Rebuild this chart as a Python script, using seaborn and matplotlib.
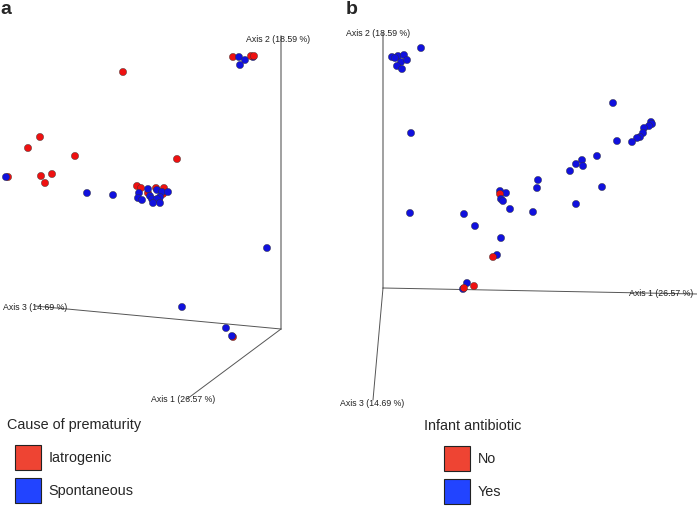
import pandas as pd
import matplotlib
matplotlib.use("Agg")
import matplotlib.pyplot as plt
import seaborn as sns
from matplotlib.patches import Patch

sns.set_style("white")
plt.rcParams['font.family'] = ['Liberation Sans', 'DejaVu Sans']

# Projected PCoA coordinates (screen space)
# panel a: cause of prematurity
a_x = [8, 6, 233, 239, 245, 240, 253, 251, 254, 123, 40, 28, 75, 177, 41, 52, 45,
       87, 113, 137, 141, 156, 164, 148, 163, 159, 148, 157, 162, 168, 139, 138,
       142, 150, 152, 160, 157, 153, 160, 267, 182, 226, 233, 232]
a_y = [177, 177, 57, 57, 60, 65, 57, 56, 56, 72, 137, 148, 156, 159, 176, 174, 183,
       193, 195, 186, 188, 188, 188, 193, 194, 200, 189, 190, 192, 192, 193, 198,
       200, 196, 199, 197, 199, 203, 203, 248, 307, 328, 337, 336]
a_grp = (["Iatrogenic", "Spontaneous", "Iatrogenic", "Spontaneous", "Spontaneous",
          "Spontaneous", "Spontaneous", "Iatrogenic", "Iatrogenic"]
         + ["Iatrogenic"] * 8
         + ["Spontaneous"] * 2
         + ["Iatrogenic"] * 7
         + ["Spontaneous"] * 13
         + ["Spontaneous", "Spontaneous", "Spontaneous", "Iatrogenic", "Spontaneous"])

# panel b: infant antibiotic
b_x = [421, 392, 398, 404, 395, 401, 407, 397, 402, 411, 613, 651, 652, 649, 644,
       643, 640, 637, 632, 617, 597, 582, 576, 583, 570, 602, 538, 537, 576, 500,
       506, 500, 501, 503, 510, 533, 410, 464, 475, 501, 497, 493, 467, 474, 463, 464]
b_y = [48, 57, 56, 55, 58, 62, 60, 66, 69, 133, 103, 122, 124, 126, 128,
       133, 137, 138, 142, 141, 156, 160, 164, 166, 171, 187, 180, 188, 204, 191,
       193, 194, 199, 201, 209, 212, 213, 214, 226, 238, 255, 257, 283, 286, 289, 288]
b_grp = (["Yes"] * 31 + ["No"] + ["Yes"] * 9 + ["No", "Yes", "No", "Yes", "No"])

# projected ordination axes: (start, end) and label anchor
a_axes = {"Axis 2 (18.59 %)": ((281, 36), (281, 329), (246, 40)),
          "Axis 3 (14.69 %)": ((281, 329), (35, 306), (3, 307)),
          "Axis 1 (26.57 %)": ((281, 329), (187, 399), (151, 400))}
b_axes = {"Axis 2 (18.59 %)": ((383, 33), (383, 288), (346, 33)),
          "Axis 1 (26.57 %)": ((383, 288), (697, 294), (629, 294)),
          "Axis 3 (14.69 %)": ((383, 288), (373, 400), (340, 403))}

red = "#ee1111"
blue = "#1111dd"

df_a = pd.DataFrame({"x": a_x, "y": a_y, "group": a_grp})
df_b = pd.DataFrame({"x": b_x, "y": b_y, "group": b_grp})

fig = plt.figure(figsize=(6.97, 5.07), dpi=100)
ax_a = fig.add_axes([0, 0, 340 / 697, 1])
ax_b = fig.add_axes([340 / 697, 0, 357 / 697, 1])
ax_a.set_xlim(0, 340)
ax_b.set_xlim(340, 697)
for ax in (ax_a, ax_b):
    ax.set_ylim(507, 0)
    ax.axis("off")


def draw_axes(ax, axes_def):
    for label, (p0, p1, t) in axes_def.items():
        vertical = p0[0] == p1[0]
        ax.plot([p0[0], p1[0]], [p0[1], p1[1]],
                color="#999999" if vertical else "#555555",
                lw=1.3 if vertical else 0.7, zorder=1)
        ax.text(t[0], t[1], label, fontsize=6.3, ha="left", va="center",
                color="#222222", zorder=3)


draw_axes(ax_a, a_axes)
draw_axes(ax_b, b_axes)

sns.scatterplot(data=df_a, x="x", y="y", hue="group",
                palette={"Iatrogenic": red, "Spontaneous": blue},
                s=27, edgecolor="#333333", linewidth=0.3, legend=False,
                ax=ax_a, zorder=2)
sns.scatterplot(data=df_b, x="x", y="y", hue="group",
                palette={"No": red, "Yes": blue},
                s=27, edgecolor="#333333", linewidth=0.3, legend=False,
                ax=ax_b, zorder=2)
for ax in (ax_a, ax_b):
    ax.set_xlabel("")
    ax.set_ylabel("")

fig.text(0 / 697, 1 - 1 / 507, "a", fontsize=14, fontweight="bold", va="top")
fig.text(346 / 697, 1 - 1 / 507, "b", fontsize=14, fontweight="bold", va="top")

leg_red = "#ee4433"
leg_blue = "#2244ff"


def add_legend(ax, title, labels, anchor):
    handles = [Patch(facecolor=leg_red, edgecolor="#222222", lw=0.8),
               Patch(facecolor=leg_blue, edgecolor="#222222", lw=0.8)]
    leg = ax.legend(handles, labels, title=title, loc="upper left",
                    bbox_to_anchor=anchor, bbox_transform=fig.transFigure,
                    frameon=False, fontsize=10.4, title_fontsize=10.4,
                    handlelength=1.8, handleheight=2.3, labelspacing=0.56,
                    handletextpad=0.56, borderpad=0, borderaxespad=0)
    leg._legend_box.sep = 9.2
    return leg


add_legend(ax_a, "Cause of prematurity", ["Iatrogenic", "Spontaneous"],
           (7 / 697, 1 - 418 / 507))
add_legend(ax_b, "Infant antibiotic", ["No", "Yes"],
           (424 / 697, 1 - 419 / 507))

plt.savefig("out.png", dpi=100)
